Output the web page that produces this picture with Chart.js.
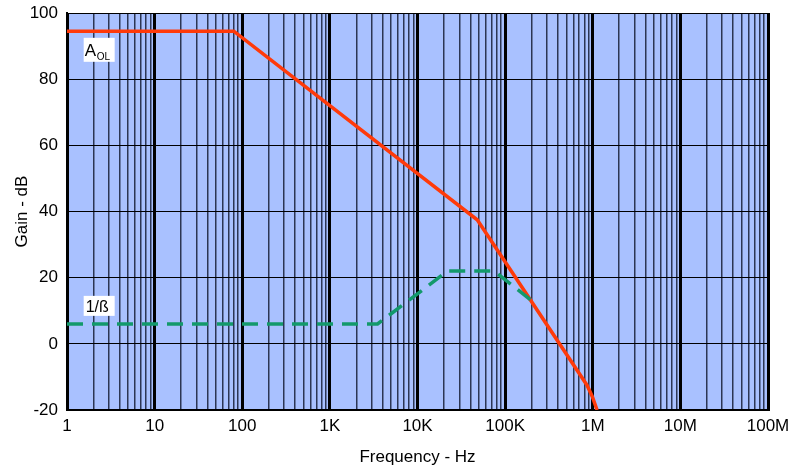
<!DOCTYPE html>
<html>
<head>
<meta charset="utf-8">
<script src="https://cdn.jsdelivr.net/npm/chart.js@4"></script>
<style>
  html, body { margin: 0; padding: 0; background: #fff; }
  #wrap { width: 801px; height: 465px; }
</style>
</head>
<body>
<div id="wrap"><canvas id="myChart"></canvas></div>
<script>
// open loop gain (red)
const aolFreq = [1, 80, 48000, 860000, 990000, 1120000];
const aolGain = [94.5, 94.5, 37.5, -12.5, -16, -20];
// noise gain 1/beta (green dashed)
const betaFreq = [1, 3500, 22000, 75000, 195000];
const betaGain = [6, 6, 22, 22, 13.3];

const decadeLabels = {1: '1', 10: '10', 100: '100', 1e3: '1K', 1e4: '10K', 1e5: '100K', 1e6: '1M', 1e7: '10M', 1e8: '100M'};
const yTicks = [-20, 0, 20, 40, 60, 80, 100];

function toPoints(xs, ys) {
  return xs.map((x, i) => ({x: x, y: ys[i]}));
}

function isDecade(v) {
  const l = Math.log10(v);
  return Math.abs(l - Math.round(l)) < 1e-9;
}

// light blue plot background
const bgPlugin = {
  id: 'bg',
  beforeDraw(chart) {
    const a = chart.chartArea, c = chart.ctx;
    c.save();
    c.fillStyle = '#a9c1ff';
    c.fillRect(a.left, a.top, a.right - a.left, a.bottom - a.top);
    c.restore();
  }
};

// curve labels with white boxes
const labelPlugin = {
  id: 'curveLabels',
  afterDatasetsDraw(chart) {
    const c = chart.ctx, xs = chart.scales.x, ys = chart.scales.y;
    c.save();
    c.textBaseline = 'alphabetic';
    // A_OL
    let x = xs.getPixelForValue(1.55), y = ys.getPixelForValue(92.5);
    c.fillStyle = '#fff';
    c.fillRect(x, y, 31, 24);
    c.fillStyle = '#000';
    c.font = '17px "Liberation Sans", Arial, sans-serif';
    c.fillText('A', x + 1, y + 18);
    c.font = '10px "Liberation Sans", Arial, sans-serif';
    c.fillText('OL', x + 13, y + 22);
    // 1/ß
    x = xs.getPixelForValue(1.55); y = ys.getPixelForValue(14.5);
    c.fillStyle = '#fff';
    c.fillRect(x, y, 31, 20);
    c.fillStyle = '#000';
    c.font = '16px "Liberation Sans", Arial, sans-serif';
    c.fillText('1/ß', x + 2, y + 16);
    c.restore();
  }
};

const ctx = document.getElementById('myChart').getContext('2d');

const config = {
  type: 'line',
  data: {
    datasets: [{
      label: '1/ß',
      data: toPoints(betaFreq, betaGain),
      borderColor: '#13996b',
      borderWidth: 3.5,
      borderDash: [16, 9],
      pointRadius: 0,
      fill: false
    }, {
      label: 'AOL',
      data: toPoints(aolFreq, aolGain),
      borderColor: '#ff3a0a',
      borderWidth: 3.5,
      pointRadius: 0,
      fill: false
    }]
  },
  options: {
    responsive: true,
    maintainAspectRatio: false,
    animation: false,
    layout: { padding: { left: 12, right: 33, top: 13, bottom: 0 } },
    plugins: { legend: { display: false }, tooltip: { enabled: false } },
    scales: {
      x: {
        type: 'logarithmic',
        min: 1,
        max: 1e8,
        afterBuildTicks(scale) {
          const t = [];
          for (let d = 1; d < 1e8; d *= 10) {
            for (let k = 1; k < 10; k++) t.push({value: d * k});
          }
          t.push({value: 1e8});
          scale.ticks = t;
        },
        afterFit(scale) { scale.height = 55; },
        ticks: {
          autoSkip: false,
          maxRotation: 0,
          color: '#000',
          padding: 6,
          font: { family: '"Liberation Sans", Arial, sans-serif', size: 17 },
          callback(value) { return decadeLabels[value] || ''; }
        },
        grid: {
          drawTicks: false,
          color: (c) => isDecade(c.tick.value) ? '#000' : '#2c3654',
          lineWidth: (c) => isDecade(c.tick.value) ? 3 : 1.5
        },
        border: { display: true, color: '#000', width: 2 },
        title: {
          display: true,
          text: 'Frequency - Hz',
          color: '#000',
          padding: { top: 0, bottom: -3 },
          font: { family: '"Liberation Sans", Arial, sans-serif', size: 17 }
        }
      },
      y: {
        min: -20,
        max: 100,
        afterBuildTicks(scale) { scale.ticks = yTicks.map(v => ({value: v})); },
        afterFit(scale) {
          scale.width = 55;
          scale.paddingTop = 0;
          scale.paddingBottom = 0;
        },
        ticks: {
          color: '#000',
          padding: 9,
          font: { family: '"Liberation Sans", Arial, sans-serif', size: 17 }
        },
        grid: { drawTicks: false, color: '#000', lineWidth: 1 },
        border: { display: true, color: '#000', width: 2 },
        title: {
          display: true,
          text: 'Gain - dB',
          color: '#000',
          padding: { top: 0, bottom: 0 },
          font: { family: '"Liberation Sans", Arial, sans-serif', size: 17 }
        }
      }
    }
  },
  plugins: [bgPlugin, labelPlugin]
};

const myChart = new Chart(ctx, config);
</script>
</body>
</html>
